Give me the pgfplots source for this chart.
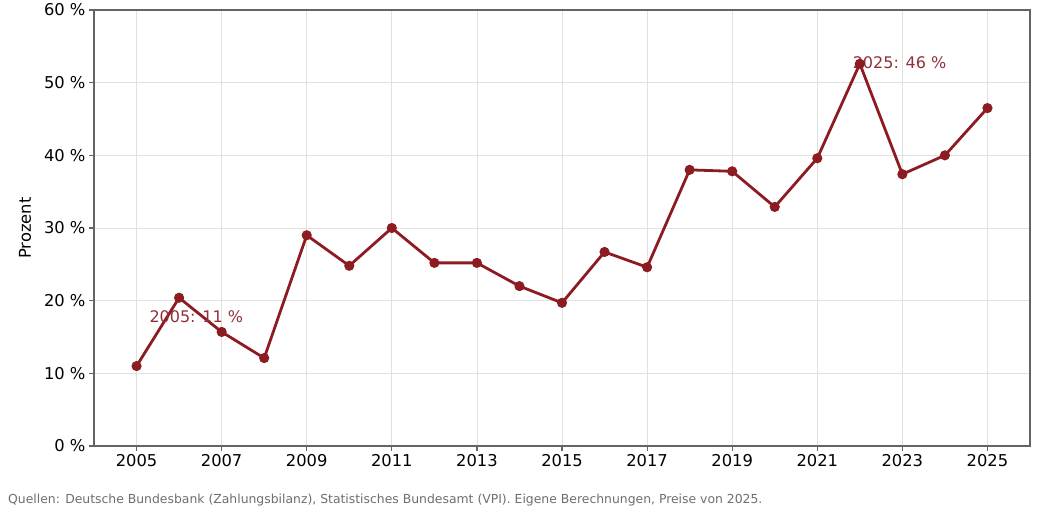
\documentclass[border=0pt]{standalone}
\usepackage{pgfplots}
\pgfplotsset{compat=1.18}
\usepackage{fontspec}
\setmainfont{DejaVu Sans}
\definecolor{linered}{RGB}{140,28,34}
\definecolor{annot}{RGB}{146,48,58}
\definecolor{gridc}{RGB}{225,225,225}
\definecolor{axc}{RGB}{100,100,100}
\begin{document}
\begin{tikzpicture}
\begin{axis}[
  scale only axis,
  width=936pt, height=436pt,
  xmin=2004, xmax=2026, ymin=0, ymax=60,
  xtick={2005,2007,...,2025},
  xticklabels={2005,2007,2009,2011,2013,2015,2017,2019,2021,2023,2025},
  ytick={0,10,...,60},
  yticklabels={0 \%,10 \%,20 \%,30 \%,40 \%,50 \%,60 \%},
  grid=major,
  major grid style={gridc, line width=0.8pt},
  axis line style={axc, line width=1.2pt},
  tick style={axc, line width=1.2pt},
  tick align=outside,
  major tick length=5pt,
  xtick pos=bottom, ytick pos=left,
  ticklabel style={font=\fontsize{16.3}{19}\selectfont, text=black},
  ylabel={Prozent},
  ylabel style={font=\fontsize{16.3}{19}\selectfont, at={(axis description cs:0,0.5)}, anchor=center, yshift=69pt},
]
\addplot[linered, line width=2.8pt, mark=*, mark size=3.6pt, mark options={fill=linered, draw=linered}] coordinates {
(2005,11.0) (2006,20.4) (2007,15.7) (2008,12.1) (2009,29.0) (2010,24.8)
(2011,30.0) (2012,25.2) (2013,25.2) (2014,22.0) (2015,19.7) (2016,26.7)
(2017,24.6) (2018,38.0) (2019,37.8) (2020,32.9) (2021,39.6) (2022,52.6)
(2023,37.4) (2024,40.0) (2025,46.5)
};
\node[anchor=west, inner sep=0pt, text=annot, font=\fontsize{16}{19}\selectfont] at (axis cs:2005.3,17.75) {2005: 11 \%};
\node[anchor=west, inner sep=0pt, text=annot, font=\fontsize{16}{19}\selectfont] at (axis cs:2021.83,52.8) {2025: 46 \%};
\end{axis}
\node[anchor=west, inner sep=0pt, text={rgb,255:red,110;green,110;blue,110}, font=\fontsize{12.4}{15}\selectfont] at ([shift={(-86pt,-54pt)}]current axis.south west) {Quellen: Deutsche Bundesbank (Zahlungsbilanz), Statistisches Bundesamt (VPI). Eigene Berechnungen, Preise von 2025.};
\pgfresetboundingbox
\path ([shift={(-94pt,-65pt)}]current axis.south west) rectangle ([shift={(9pt,10pt)}]current axis.north east);
\end{tikzpicture}
\end{document}
